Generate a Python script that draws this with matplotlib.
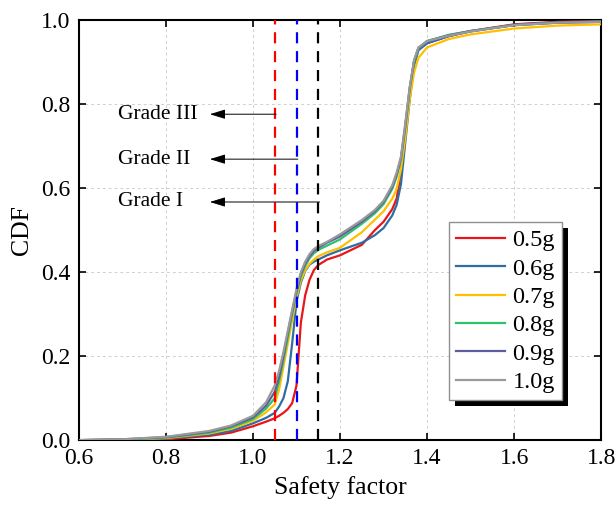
import matplotlib
matplotlib.use("Agg")
import matplotlib.pyplot as plt
from matplotlib import rcParams
from matplotlib.patches import Rectangle

# Safety factor sample points shared by every intensity level
safety_factor = [0.6, 0.7, 0.8, 0.9, 0.95, 1.0, 1.03, 1.05, 1.06, 1.07, 1.08, 1.09,
                 1.10, 1.11, 1.12, 1.13, 1.14, 1.15, 1.17, 1.2, 1.25, 1.28, 1.3, 1.32,
                 1.33, 1.34, 1.35, 1.36, 1.37, 1.38, 1.4, 1.45, 1.5, 1.6, 1.7, 1.8]

cdf_05g = [0.0, 0.0, 0.002, 0.01, 0.018, 0.033, 0.044, 0.052, 0.058, 0.065, 0.074, 0.088,
           0.13, 0.28, 0.345, 0.382, 0.405, 0.417, 0.43, 0.44, 0.465, 0.5, 0.52, 0.55,
           0.575, 0.64, 0.73, 0.82, 0.9, 0.932, 0.945, 0.962, 0.974, 0.99, 0.996, 0.998]
cdf_06g = [0.0, 0.001, 0.004, 0.013, 0.022, 0.04, 0.053, 0.065, 0.08, 0.10, 0.14, 0.23,
           0.33, 0.375, 0.403, 0.418, 0.425, 0.43, 0.44, 0.452, 0.47, 0.488, 0.505, 0.535,
           0.56, 0.61, 0.71, 0.81, 0.89, 0.928, 0.945, 0.962, 0.973, 0.989, 0.995, 0.997]
cdf_07g = [0.0, 0.001, 0.005, 0.016, 0.027, 0.046, 0.066, 0.085, 0.12, 0.175, 0.23, 0.285,
           0.34, 0.38, 0.405, 0.42, 0.43, 0.438, 0.447, 0.458, 0.495, 0.525, 0.545, 0.575,
           0.598, 0.645, 0.72, 0.81, 0.875, 0.91, 0.935, 0.955, 0.966, 0.98, 0.987, 0.99]
cdf_08g = [0.0, 0.001, 0.006, 0.018, 0.03, 0.05, 0.075, 0.10, 0.14, 0.19, 0.245, 0.30,
           0.35, 0.39, 0.415, 0.433, 0.445, 0.453, 0.463, 0.478, 0.515, 0.54, 0.562, 0.598,
           0.627, 0.668, 0.745, 0.835, 0.9, 0.932, 0.95, 0.965, 0.974, 0.988, 0.994, 0.996]
cdf_09g = [0.0, 0.002, 0.007, 0.02, 0.033, 0.054, 0.082, 0.115, 0.15, 0.20, 0.255, 0.305,
           0.355, 0.395, 0.42, 0.438, 0.45, 0.458, 0.47, 0.485, 0.52, 0.545, 0.567, 0.603,
           0.632, 0.672, 0.75, 0.838, 0.902, 0.933, 0.95, 0.964, 0.974, 0.988, 0.994, 0.996]
cdf_10g = [0.0, 0.002, 0.008, 0.022, 0.035, 0.058, 0.09, 0.13, 0.165, 0.21, 0.26, 0.31,
           0.36, 0.40, 0.425, 0.443, 0.455, 0.462, 0.472, 0.49, 0.524, 0.548, 0.57, 0.607,
           0.637, 0.675, 0.755, 0.84, 0.905, 0.935, 0.95, 0.963, 0.973, 0.988, 0.994, 0.996]

series_labels = ["0.5g", "0.6g", "0.7g", "0.8g", "0.9g", "1.0g"]
series_values = [cdf_05g, cdf_06g, cdf_07g, cdf_08g, cdf_09g, cdf_10g]
series_colors = ["#e8161b", "#2e6da4", "#ffc000", "#2ec36a", "#5e5e9c", "#9a9a9a"]

# Grade thresholds on the safety factor axis and where their labels sit
grade_names = ["Grade III", "Grade II", "Grade I"]
grade_limits = [1.05, 1.10, 1.15]
grade_label_y = [0.776, 0.669, 0.567]
grade_colors = ["red", "blue", "black"]

rcParams['font.family'] = 'serif'
rcParams['font.serif'] = ['Liberation Serif', 'DejaVu Serif']
rcParams['font.size'] = 17
rcParams['mathtext.fontset'] = 'stix'

fig = plt.figure(figsize=(6.16, 5.16), dpi=100, facecolor='white')
ax = fig.add_axes([0.128, 0.147, 0.848, 0.814])

ax.grid(True, color='#d0d0d0', linestyle=(0, (3, 3)), linewidth=0.7)
ax.set_axisbelow(True)

for vals, lab, col in zip(series_values, series_labels, series_colors):
    ax.plot(safety_factor, vals, color=col, linewidth=1.6, label=lab, zorder=3)

for xg, col in zip(grade_limits, grade_colors):
    ax.axvline(xg, color=col, linestyle=(0, (5, 3.5)), linewidth=1.6, zorder=4)

# arrows pointing from each threshold line back to its label
for name, xg, yg in zip(grade_names, grade_limits, grade_label_y):
    ax.annotate('', xy=(0.901, yg), xytext=(xg + 0.003, yg),
                arrowprops=dict(arrowstyle='-|>,head_length=0.55,head_width=0.17',
                                color='black', lw=0.7, shrinkA=0, shrinkB=0),
                zorder=5)
    ax.text(0.69, yg, name, ha='left', va='center', fontsize=15.5)

ax.set_xlim(0.6, 1.8)
ax.set_ylim(0.0, 1.0)
ax.set_xticks([0.6, 0.8, 1.0, 1.2, 1.4, 1.6, 1.8])
ax.set_yticks([0.0, 0.2, 0.4, 0.6, 0.8, 1.0])
ax.xaxis.set_major_formatter(matplotlib.ticker.FormatStrFormatter('%.1f'))
ax.yaxis.set_major_formatter(matplotlib.ticker.FormatStrFormatter('%.1f'))
ax.set_xlabel('Safety factor', fontsize=18.5, labelpad=5)
ax.set_ylabel('CDF', fontsize=18.5, labelpad=6)

for side in ['top', 'left', 'right', 'bottom']:
    ax.spines[side].set_linewidth(1.5)
ax.tick_params(axis='both', which='major', direction='in', length=5, width=1.2,
               top=True, right=True, pad=6)

leg = ax.legend(loc='upper left', bbox_to_anchor=(0.709, 0.519), fontsize=17.5,
                frameon=True, fancybox=False, edgecolor='#909090', framealpha=1,
                handlelength=2.0, handletextpad=0.3, labelspacing=0.26,
                borderpad=0.3, borderaxespad=0)
leg.get_frame().set_linewidth(1.0)
leg.set_zorder(10)

# solid black drop shadow behind the legend box
fig.canvas.draw()
bb = leg.get_window_extent().transformed(fig.transFigure.inverted())
dx, dy = 6 / 616, 6 / 516
shadow = Rectangle((bb.x0 + dx, bb.y0 - dy), bb.width, bb.height, transform=fig.transFigure,
                   facecolor='black', edgecolor='none', zorder=9)
fig.add_artist(shadow)
leg.remove()
fig.add_artist(leg)

fig.savefig('out.png', dpi=100, facecolor='white')
